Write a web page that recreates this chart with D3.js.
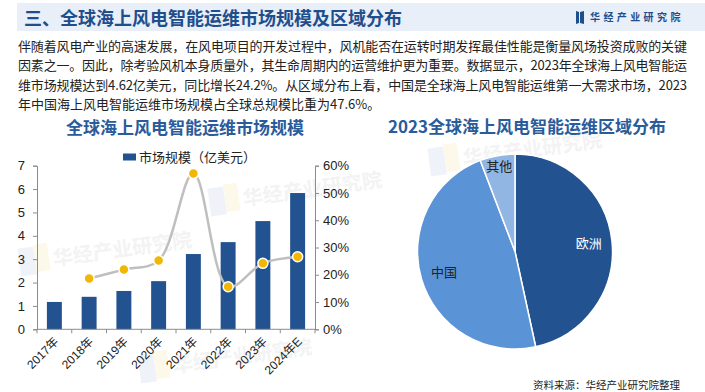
<!DOCTYPE html>
<html>
<head>
<meta charset="utf-8">
<script src="https://cdn.jsdelivr.net/npm/d3@7/dist/d3.min.js"></script>
<style>
  body { margin: 0; background: #fff; }
  svg { display: block; font-family: "Noto Sans CJK SC", "Liberation Sans", sans-serif; }
</style>
</head>
<body>
<div id="chart"></div>
<script>
// chart values
var years = ["2017年", "2018年", "2019年", "2020年", "2021年", "2022年", "2023年", "2024年E"];
var marketSize = [1.17, 1.39, 1.64, 2.06, 3.22, 3.73, 4.63, 5.83];
var growthYears = ["2018年", "2019年", "2020年", "2021年", "2022年", "2023年", "2024年E"];
var growthRate = [18.6, 21.9, 25.2, 57.1, 15.6, 24.2, 26.6];
var leftTicks = [0, 1, 2, 3, 4, 5, 6, 7];
var rightTicks = [0, 10, 20, 30, 40, 50, 60];
var regions = ["欧洲", "中国", "其他"];
var regionShare = [46.6, 47.6, 5.8];

var paragraph = [
  "伴随着风电产业的高速发展，在风电项目的开发过程中，风机能否在运转时期发挥最佳性能是衡量风场投资成败的关键",
  "因素之一。因此，除考验风机本身质量外，其生命周期内的运营维护更为重要。数据显示，2023年全球海上风电智能运",
  "维市场规模达到4.62亿美元，同比增长24.2%。从区域分布上看，中国是全球海上风电智能运维第一大需求市场，2023",
  "年中国海上风电智能运维市场规模占全球总规模比重为47.6%。"
];

var W = 705, H = 392;
var blue = "#22528f";

var svg = d3.select("#chart").append("svg")
    .attr("width", W)
    .attr("height", H);

// faint watermarks
var marks = [[60, 265], [250, 205], [470, 165], [180, 372]];
marks.forEach(function(m) {
  var g = svg.append("g").attr("transform", "translate(" + m[0] + "," + m[1] + ") rotate(-8)");
  g.append("rect").attr("x", -40).attr("y", -22).attr("width", 16).attr("height", 28).attr("fill", "#eff3f9");
  g.append("rect").attr("x", -24).attr("y", -24).attr("width", 14).attr("height", 28).attr("fill", "#fdf9ea");
  g.append("text").attr("x", -6).attr("y", 0)
    .attr("font-size", 20).attr("font-weight", "bold").attr("fill", "#f3f3f3")
    .text("华经产业研究院");
});

// header band
svg.append("rect").attr("x", 17).attr("y", 3).attr("width", 688).attr("height", 28).attr("fill", "#e9eff8");

svg.append("text")
    .attr("x", 24).attr("y", 25)
    .attr("font-size", 18).attr("font-weight", "bold").attr("fill", "#1f4e8c")
    .text("三、全球海上风电智能运维市场规模及区域分布");

// logo
svg.append("path").attr("d", "M576,11 L579,12 L579,23 L576,24 Z M580,12 L584,11 L584,24 L580,23 Z").attr("fill", "#1f4e8c");
svg.append("text")
    .attr("x", 590).attr("y", 21)
    .attr("font-size", 10).attr("font-weight", "bold").attr("fill", "#1f4e8c")
    .attr("letter-spacing", 3.4)
    .text("华经产业研究院");

// paragraph
paragraph.forEach(function(line, i) {
  var t = svg.append("text")
      .attr("x", 18).attr("y", 51 + i * 19.3)
      .attr("font-size", 13).attr("fill", "#222")
      .text(line);
  if (i < 3) t.attr("textLength", 669).attr("lengthAdjust", "spacing");
});

// ---------- left chart ----------
var plotLeft = 37, plotRight = 315, plotTop = 165.7, plotBottom = 329.3;

svg.append("text")
    .attr("x", 185).attr("y", 134)
    .attr("text-anchor", "middle")
    .attr("font-size", 17).attr("font-weight", "bold").attr("fill", "#2a5b9b")
    .text("全球海上风电智能运维市场规模");

var x = d3.scaleBand().domain(years).range([plotLeft, plotRight]).paddingInner(0.57).paddingOuter(0.285);
var y = d3.scaleLinear().domain([0, 7]).range([plotBottom, plotTop]);
var y2 = d3.scaleLinear().domain([0, 60]).range([plotBottom, plotTop]);

svg.append("g").selectAll("rect")
    .data(marketSize)
    .enter()
    .append("rect")
    .attr("x", function(d, i) { return x(years[i]); })
    .attr("y", function(d) { return y(d); })
    .attr("width", x.bandwidth())
    .attr("height", function(d) { return plotBottom - y(d); })
    .attr("fill", blue);

// left axis
var yAxis = svg.append("g")
    .attr("transform", "translate(" + plotLeft + ",0)")
    .call(d3.axisLeft(y).tickValues(leftTicks).tickSize(4).tickPadding(8)
      .tickFormat(d3.format("d")));
// right axis
var y2Axis = svg.append("g")
    .attr("transform", "translate(" + plotRight + ",0)")
    .call(d3.axisRight(y2).tickValues(rightTicks).tickSize(4).tickPadding(4)
      .tickFormat(function(d) { return d + "%"; }));
[yAxis, y2Axis].forEach(function(a) {
  a.select(".domain").attr("stroke", "#8c8c8c");
  a.selectAll(".tick line").attr("stroke", "#8c8c8c");
  a.selectAll("text").attr("font-size", 13).attr("fill", "#222")
    .attr("font-family", "Liberation Sans, Arial, sans-serif");
});

// bottom axis with ticks between categories
var xAxis = svg.append("g");
xAxis.append("line")
    .attr("x1", plotLeft).attr("x2", plotRight).attr("y1", plotBottom).attr("y2", plotBottom)
    .attr("stroke", "#8c8c8c");
var bounds = years.map(function(d) { return x(d) - x.step() * x.paddingInner() / 2; }).concat([plotRight]);
xAxis.selectAll(".tk").data(bounds).enter().append("line")
    .attr("x1", function(d) { return d; }).attr("x2", function(d) { return d; })
    .attr("y1", plotBottom).attr("y2", plotBottom + 4)
    .attr("stroke", "#8c8c8c");
xAxis.selectAll("text").data(years).enter().append("text")
    .attr("transform", function(d) {
      return "translate(" + (x(d) + x.bandwidth() / 2 + 2) + "," + (plotBottom + 10) + ") rotate(-45)";
    })
    .attr("text-anchor", "end")
    .attr("dy", "0.35em")
    .attr("font-size", 12).attr("fill", "#222")
    .attr("font-family", "Liberation Sans, Noto Sans CJK SC, sans-serif")
    .text(function(d) { return d; });

// growth line
var cx = function(d, i) { return x(growthYears[i]) + x.bandwidth() / 2; };
var line = d3.line()
    .x(cx)
    .y(function(d) { return y2(d); })
    .curve(d3.curveCatmullRom.alpha(0.5));
svg.append("path")
    .datum(growthRate)
    .attr("d", line)
    .attr("fill", "none")
    .attr("stroke", "#bfbfbf")
    .attr("stroke-width", 2.5);
svg.append("g").selectAll("circle")
    .data(growthRate)
    .enter()
    .append("circle")
    .attr("cx", cx)
    .attr("cy", function(d) { return y2(d); })
    .attr("r", 5)
    .attr("fill", "#f2b705")
    .attr("stroke", "#fff")
    .attr("stroke-width", 1.5);

// legend
svg.append("rect").attr("x", 123).attr("y", 153.5).attr("width", 13).attr("height", 7).attr("fill", blue);
svg.append("text")
    .attr("x", 139).attr("y", 162)
    .attr("font-size", 13).attr("fill", "#222")
    .text("市场规模（亿美元）");

// ---------- pie chart ----------
svg.append("text")
    .attr("x", 388).attr("y", 133)
    .attr("font-size", 17).attr("font-weight", "bold").attr("fill", "#2a5b9b")
    .text("2023全球海上风电智能运维区域分布");

var pieColor = d3.scaleOrdinal().domain(regions).range(["#22528f", "#5b93d7", "#91b6e4"]);
var radius = 97.5;
var pie = d3.pie().sort(null).value(function(d, i) { return regionShare[i]; });
var arcs = pie(regions);
var arc = d3.arc().innerRadius(0).outerRadius(radius);

var pg = svg.append("g").attr("transform", "translate(515,251.5)");
pg.selectAll("path")
    .data(arcs)
    .enter()
    .append("path")
    .attr("d", arc)
    .attr("fill", function(d) { return pieColor(d.data); })
    .attr("stroke", "#fff")
    .attr("stroke-width", 1.5);

pg.selectAll("text")
    .data(arcs)
    .enter()
    .append("text")
    .attr("transform", function(d) {
      var lr = (d.endAngle - d.startAngle) < 0.5 ? radius * 0.89 : radius * 0.76;
      var c = d3.arc().innerRadius(lr).outerRadius(lr).centroid(d);
      return "translate(" + c[0] + "," + c[1] + ")";
    })
    .attr("text-anchor", "middle")
    .attr("dy", "0.35em")
    .attr("font-size", 13)
    .attr("fill", function(d, i) { return i === 0 ? "#fff" : "#222"; })
    .text(function(d) { return d.data; });

svg.append("text")
    .attr("x", 680).attr("y", 389)
    .attr("text-anchor", "end")
    .attr("font-size", 10.5).attr("fill", "#222")
    .text("资料来源：华经产业研究院整理");
</script>
</body>
</html>
